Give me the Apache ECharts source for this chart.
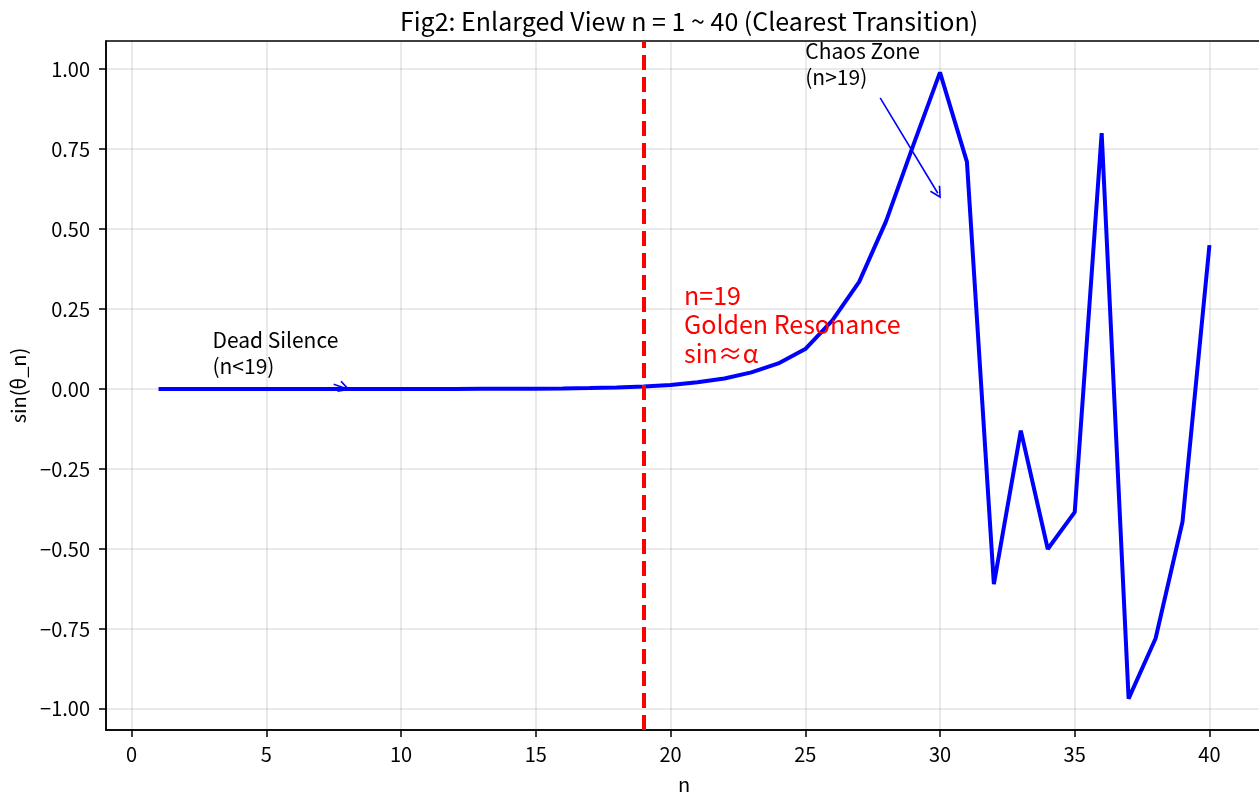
<!DOCTYPE html>
<html>
<head>
<meta charset="utf-8">
<script src="https://cdn.jsdelivr.net/npm/echarts@6/dist/echarts.min.js"></script>
<style>
  html, body { margin: 0; padding: 0; background: #fff; }
  #chart { width: 1259px; height: 795px; }
</style>
</head>
<body>
<div id="chart"></div>
<script>
// n = 1 .. 40
var nValues = [];
for (var i = 1; i <= 40; i++) nValues.push(i);

// sin(theta_n)
var sinValues = [
  0, 0, 0, 0, 0, 0, 0, 0, 0.0001, 0.0001,
  0.0002, 0.0003, 0.0005, 0.0007, 0.0012, 0.0019, 0.003, 0.0049, 0.0078, 0.0125,
  0.021, 0.033, 0.052, 0.080, 0.125, 0.214, 0.335, 0.525, 0.76, 0.99,
  0.71, -0.61, -0.13, -0.50, -0.385, 0.80, -0.968, -0.78, -0.415, 0.45
];

var xTicks = [0, 5, 10, 15, 20, 25, 30, 35, 40];
var yTicks = [-1, -0.75, -0.5, -0.25, 0, 0.25, 0.5, 0.75, 1];
var goldenN = 19;

var FONT = '"Noto Sans CJK SC", "Noto Sans", sans-serif';

var chart = echarts.init(document.getElementById('chart'));

// open "->" style head
var arrowHead = 'path://M0,0 L6,10 L4.6,10.8 L0,3 L-4.6,10.8 L-6,10 Z';

var lineData = nValues.map(function (n, i) { return [n, sinValues[i]]; });

var option = {
    animation: false,
    backgroundColor: '#fff',
    title: {
        text: 'Fig2: Enlarged View n = 1 ~ 40 (Clearest Transition)',
        left: 684,
        top: 4,
        textAlign: 'center',
        textStyle: { fontFamily: FONT, fontSize: 25, fontWeight: 'normal', color: '#000' }
    },
    grid: {
        left: 106, top: 41, width: 1156, height: 689,
        outerBoundsMode: 'none',
        show: true, borderColor: '#000', borderWidth: 1.5, backgroundColor: 'transparent'
    },
    xAxis: {
        type: 'value',
        min: -0.95, max: 41.95,
        name: 'n',
        nameLocation: 'middle',
        nameGap: 44,
        nameTextStyle: { fontFamily: FONT, fontSize: 20, color: '#000' },
        axisLine: { show: true, onZero: false, lineStyle: { color: '#000', width: 1.5 } },
        axisTick: { show: true, length: 7, customValues: xTicks, lineStyle: { color: '#000', width: 1.5 } },
        axisLabel: { customValues: xTicks, margin: 14, fontFamily: FONT, fontSize: 20, color: '#000' },
        splitLine: { show: true, lineStyle: { color: 'rgba(0,0,0,0.11)', width: 1.5 } }
    },
    yAxis: {
        type: 'value',
        min: -1.066, max: 1.088,
        name: 'sin(θ_n)',
        nameLocation: 'middle',
        nameGap: 78,
        nameTextStyle: { fontFamily: FONT, fontSize: 20, color: '#000' },
        axisLine: { show: true, onZero: false, lineStyle: { color: '#000', width: 1.5 } },
        axisTick: { show: true, length: 7, customValues: yTicks, lineStyle: { color: '#000', width: 1.5 } },
        axisLabel: {
            customValues: yTicks, margin: 16, fontFamily: FONT, fontSize: 20, color: '#000',
            formatter: function (v) { return v.toFixed(2).replace('-', '\u2212'); }
        },
        splitLine: { show: true, lineStyle: { color: 'rgba(0,0,0,0.11)', width: 1.5 } }
    },
    series: [
        {
            type: 'line',
            data: lineData,
            showSymbol: false,
            symbol: 'none',
            lineStyle: { color: '#0000ff', width: 4 },
            z: 3,
            markLine: {
                silent: true,
                symbol: ['none', 'none'],
                label: { show: false },
                lineStyle: { color: '#ff0000', width: 4, type: [15, 7] },
                data: [{ xAxis: goldenN }],
                z: 4
            }
        },
        {
            // annotation arrows
            type: 'line',
            data: [],
            markLine: {
                silent: true,
                symbol: ['none', arrowHead],
                symbolSize: [12, 12],
                label: { show: false },
                lineStyle: { color: '#0000ff', width: 1.6, type: 'solid' },
                data: [
                    [{ coord: [7.5, 0.015] }, { coord: [7.9, 0.003] }],
                    [{ coord: [27.78, 0.91] }, { coord: [29.92, 0.612] }]
                ],
                z: 5
            }
        }
    ]
};

chart.setOption(option);

// text annotations positioned in data space
function px(x, y) { return chart.convertToPixel({ gridIndex: 0 }, [x, y]); }

var p1 = px(3, 0.05);
var p2 = px(25, 0.95);
var p3 = px(20.5, 0.08);

chart.setOption({
    graphic: [
        {
            type: 'text', x: p1[0], y: p1[1] + 6, z: 10,
            style: { text: 'Dead Silence\n(n<19)', fontFamily: FONT, fontSize: 21, lineHeight: 26,
                     fill: '#000', textAlign: 'left', textVerticalAlign: 'bottom' }
        },
        {
            type: 'text', x: p2[0], y: p2[1] + 5, z: 10,
            style: { text: 'Chaos Zone\n(n>19)', fontFamily: FONT, fontSize: 21, lineHeight: 26,
                     fill: '#000', textAlign: 'left', textVerticalAlign: 'bottom' }
        },
        {
            type: 'text', x: p3[0], y: p3[1] + 5, z: 10,
            style: { text: 'n=19\nGolden Resonance\nsin\u2248\u03b1', fontFamily: FONT, fontSize: 25, lineHeight: 29,
                     fill: '#ff0000', textAlign: 'left', textVerticalAlign: 'bottom' }
        }
    ]
});
</script>
</body>
</html>
